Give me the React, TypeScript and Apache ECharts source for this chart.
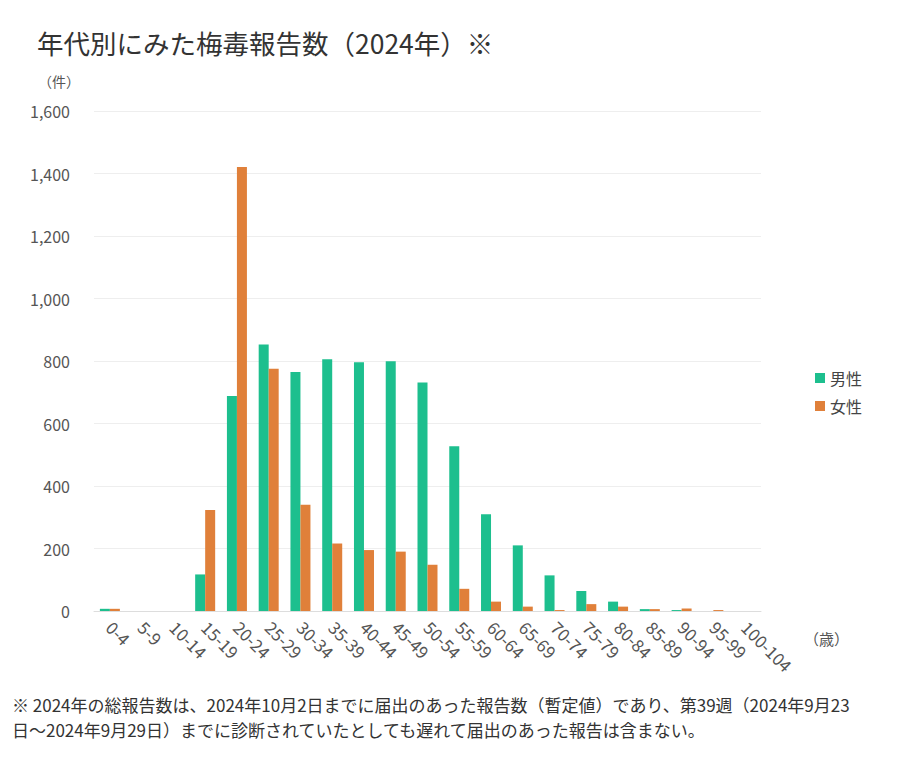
import React, { useEffect, useRef } from "react";
import * as echarts from "echarts";

const TITLE = "年代別にみた梅毒報告数（2024年）※";
const Y_UNIT = "（件）";
const X_UNIT = "（歳）";
const FOOTNOTE_1 = "※ 2024年の総報告数は、2024年10月2日までに届出のあった報告数（暫定値）であり、第39週（2024年9月23";
const FOOTNOTE_2 = "日～2024年9月29日）までに診断されていたとしても遅れて届出のあった報告は含まない。";

const ageGroups = [
  "0-4", "5-9", "10-14", "15-19", "20-24", "25-29", "30-34", "35-39", "40-44", "45-49",
  "50-54", "55-59", "60-64", "65-69", "70-74", "75-79", "80-84", "85-89", "90-94", "95-99", "100-104",
];
const male = [7, 0, 0, 117, 688, 853, 765, 806, 796, 799, 731, 527, 310, 210, 114, 64, 30, 6, 3, 0, 0];
const female = [7, 0, 0, 323, 1421, 775, 340, 216, 195, 190, 148, 71, 30, 14, 3, 22, 14, 6, 8, 3, 0];
const seriesNames = ["男性", "女性"];
const yTicks = { min: 0, max: 1600, interval: 200 };

const FONT = "'Noto Sans CJK JP', 'Noto Sans', sans-serif";

export default function App() {
  const ref = useRef<HTMLDivElement>(null);
  useEffect(() => {
    if (!ref.current) return;
    const chart = echarts.init(ref.current, undefined, { renderer: "svg" });
    chart.setOption({
      animation: false,
      backgroundColor: "#ffffff",
      textStyle: { fontFamily: FONT },
      grid: { left: 94, right: 146, top: 111, bottom: 148, containLabel: false },
      legend: {
        orient: "vertical",
        left: 810,
        top: 365,
        itemWidth: 10,
        itemHeight: 10,
        itemGap: 12,
        icon: "rect",
        textStyle: { fontSize: 16, color: "#444", fontFamily: FONT },
        data: seriesNames,
      },
      xAxis: {
        type: "category",
        data: ageGroups,
        axisLine: { lineStyle: { color: "#dddddd" } },
        axisTick: { show: false },
        axisLabel: {
          rotate: -45,
          interval: 0,
          margin: 13,
          fontSize: 17,
          color: "#555",
          fontFamily: FONT,
        },
      },
      yAxis: {
        type: "value",
        min: yTicks.min,
        max: yTicks.max,
        interval: yTicks.interval,
        axisLine: { show: false },
        axisTick: { show: false },
        splitLine: { lineStyle: { color: "#eeeeee" } },
        axisLabel: {
          fontSize: 16,
          color: "#555",
          margin: 24,
          fontFamily: FONT,
          formatter: (v: number) => v.toLocaleString("en-US"),
        },
      },
      series: [
        {
          name: seriesNames[0],
          type: "bar",
          data: male,
          barWidth: 10,
          barGap: "0%",
          itemStyle: { color: "#1dbf8e" },
        },
        {
          name: seriesNames[1],
          type: "bar",
          data: female,
          barWidth: 10,
          barGap: "0%",
          itemStyle: { color: "#e0803a" },
        },
      ],
      graphic: [
        {
          type: "text",
          left: 37,
          top: 29,
          style: { text: TITLE, fontSize: 26.5, fill: "#333", fontFamily: FONT },
        },
        {
          type: "text",
          left: 38,
          top: 74,
          style: { text: Y_UNIT, fontSize: 14, fill: "#555", fontFamily: FONT },
        },
        {
          type: "text",
          left: 804,
          top: 631,
          style: { text: X_UNIT, fontSize: 15, fill: "#555", fontFamily: FONT },
        },
        {
          type: "text",
          left: 12,
          top: 696,
          style: { text: FOOTNOTE_1, fontSize: 17, fill: "#333", fontFamily: FONT },
        },
        {
          type: "text",
          left: 12,
          top: 721,
          style: { text: FOOTNOTE_2, fontSize: 17, fill: "#333", fontFamily: FONT },
        },
      ],
    });
    return () => chart.dispose();
  }, []);
  return (
    <div
      ref={ref}
      style={{ position: "fixed", left: 0, top: 0, width: 907, height: 759 }}
    />
  );
}
